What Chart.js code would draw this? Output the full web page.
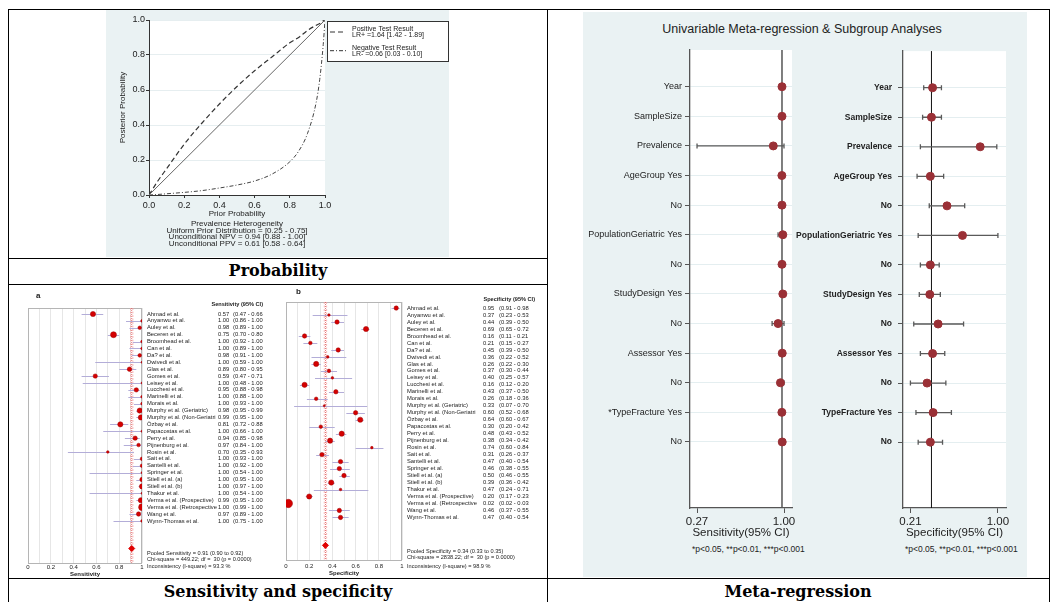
<!DOCTYPE html>
<html>
<head>
<meta charset="utf-8">
<script src="https://cdn.jsdelivr.net/npm/chart.js@4"></script>
<style>
body { margin: 0; background: #fff; width: 1054px; height: 602px; overflow: hidden; position: relative; font-family: "Liberation Sans", Arial, sans-serif; }
canvas { position: absolute; }
.hl { position: absolute; height: 1px; background: #000; }
.vl { position: absolute; width: 1px; background: #000; }
.cap { position: absolute; font-family: "DejaVu Serif", serif; font-weight: bold; font-size: 16px; text-align: center; line-height: 18px; color: #000; }
.panel { position: absolute; background: #eaf2f3; }
.txt { position: absolute; white-space: nowrap; color: #222; }
</style>
</head>
<body>

<div class="panel" style="left:106px;top:10px;width:343px;height:247px"></div>
<div class="panel" style="left:583px;top:12px;width:444px;height:565px"></div>

<div class="hl" style="left:8px;top:9px;width:1042px"></div>
<div class="hl" style="left:8px;top:258px;width:540px"></div>
<div class="hl" style="left:8px;top:284px;width:540px"></div>
<div class="hl" style="left:8px;top:578px;width:1042px"></div>
<div class="vl" style="left:8px;top:9px;height:593px"></div>
<div class="vl" style="left:547px;top:9px;height:593px"></div>
<div class="vl" style="left:1049px;top:9px;height:593px"></div>

<div class="cap" style="left:8px;top:262px;width:540px">Probability</div>
<div class="cap" style="left:8px;top:583px;width:540px">Sensitivity and specificity</div>
<div class="cap" style="left:547px;top:583px;width:502px">Meta-regression</div>

<div class="txt" style="left:580px;top:21px;width:444px;text-align:center;font-size:12.5px;line-height:16px">Univariable Meta-regression &amp; Subgroup Analyses</div>
<div class="txt" style="left:692px;top:544px;font-size:8.5px;line-height:10px">*p&lt;0.05, **p&lt;0.01, ***p&lt;0.001</div>
<div class="txt" style="left:905px;top:544px;font-size:8.5px;line-height:10px">*p&lt;0.05, **p&lt;0.01, ***p&lt;0.001</div>

<canvas id="prob" width="343" height="247" style="left:106px;top:10px"></canvas>
<canvas id="sens" width="260" height="290" style="left:20px;top:288px"></canvas>
<canvas id="spec" width="260" height="290" style="left:280px;top:288px"></canvas>
<canvas id="mrSens" width="222" height="505" style="left:583px;top:40px"></canvas>
<canvas id="mrSpec" width="257" height="505" style="left:770px;top:40px"></canvas>

<script>
// ---------- probability plot ----------
var priorProb    = [0, 0.05, 0.1, 0.2, 0.3, 0.4, 0.5, 0.6, 0.7, 0.8, 0.85, 0.9, 0.95, 0.97, 0.99, 1];
var postPositive = [0, 0.08, 0.15, 0.29, 0.41, 0.52, 0.62, 0.71, 0.79, 0.87, 0.90, 0.94, 0.97, 0.98, 0.995, 1];
var postNegative = [0, 0.003, 0.007, 0.015, 0.025, 0.04, 0.057, 0.08, 0.12, 0.19, 0.25, 0.35, 0.53, 0.66, 0.86, 1];
var diagonal     = [0, 1];
var probTicks    = [0, 0.2, 0.4, 0.6, 0.8, 1];
var probLegend   = [['Positive Test Result', 'LR+ =1.64 [1.42 - 1.89]'], ['Negative Test Result', 'LR- =0.06 [0.03 - 0.10]']];
var probNotes    = ['Prevalence Heterogeneity', 'Uniform Prior Distribution = [0.25 - 0.75]', 'Unconditional NPV = 0.94 [0.88 - 1.00]', 'Unconditional PPV = 0.61 [0.58 - 0.64]'];

// ---------- forest plots ----------
var studies = ['Ahmad et al.', 'Anyanwu et al.', 'Auley et al.', 'Beceren et al.', 'Broomhead et al.', 'Can et al.', 'Da? et al.',
    'Dwivedi et al.', 'Glas et al.', 'Gomes et al.', 'Leisey et al.', 'Lucchesi et al.', 'Marinelli et al.', 'Morais et al.',
    'Murphy et al. (Geriatric)', 'Murphy et al. (Non-Geriatri', 'Özbay et al.', 'Papacostas et al.', 'Perry et al.', 'Pijnenburg et al.',
    'Rosin et al.', 'Sait et al.', 'Santelli et al.', 'Springer et al.', 'Stiell et al. (a)', 'Stiell et al. (b)', 'Thakur et al.',
    'Verma et al. (Prospective)', 'Verma et al. (Retrospective', 'Wang et al.', 'Wynn-Thomas et al.'];
var sensEst = [0.57, 1.00, 0.98, 0.75, 1.00, 1.00, 0.98, 1.00, 0.89, 0.59, 1.00, 0.95, 1.00, 1.00, 0.98, 0.99, 0.81, 1.00, 0.94, 0.97, 0.70, 1.00, 1.00, 1.00, 1.00, 1.00, 1.00, 0.99, 1.00, 0.97, 1.00];
var sensLo  = [0.47, 0.86, 0.89, 0.70, 0.92, 0.89, 0.91, 0.59, 0.80, 0.47, 0.48, 0.88, 0.88, 0.93, 0.95, 0.95, 0.72, 0.66, 0.85, 0.84, 0.35, 0.93, 0.92, 0.54, 0.95, 0.97, 0.54, 0.95, 0.99, 0.89, 0.75];
var sensHi  = [0.66, 1.00, 1.00, 0.80, 1.00, 1.00, 1.00, 1.00, 0.95, 0.71, 1.00, 0.98, 1.00, 1.00, 0.99, 1.00, 0.88, 1.00, 0.98, 1.00, 0.93, 1.00, 1.00, 1.00, 1.00, 1.00, 1.00, 1.00, 1.00, 1.00, 1.00];
var specEst = [0.95, 0.37, 0.44, 0.69, 0.16, 0.21, 0.45, 0.36, 0.26, 0.37, 0.40, 0.16, 0.43, 0.26, 0.33, 0.60, 0.64, 0.30, 0.48, 0.38, 0.74, 0.31, 0.47, 0.46, 0.50, 0.39, 0.47, 0.20, 0.02, 0.46, 0.47];
var specLo  = [0.91, 0.23, 0.39, 0.65, 0.11, 0.15, 0.39, 0.22, 0.22, 0.30, 0.25, 0.12, 0.37, 0.18, 0.07, 0.52, 0.60, 0.20, 0.43, 0.34, 0.60, 0.26, 0.40, 0.38, 0.46, 0.36, 0.24, 0.17, 0.02, 0.37, 0.40];
var specHi  = [0.98, 0.53, 0.50, 0.72, 0.21, 0.27, 0.50, 0.52, 0.30, 0.44, 0.57, 0.20, 0.50, 0.36, 0.70, 0.68, 0.67, 0.42, 0.52, 0.42, 0.84, 0.37, 0.54, 0.55, 0.55, 0.42, 0.71, 0.23, 0.03, 0.55, 0.54];
var sensPooled = [0.91, 0.90, 0.92];
var specPooled = [0.34, 0.33, 0.35];
var sensFooter = ['Pooled Sensitivity = 0.91 (0.90 to 0.92)', 'Chi-square = 449.22; df =  30 (p = 0.0000)', 'Inconsistency (I-square) = 93.3 %'];
var specFooter = ['Pooled Specificity = 0.34 (0.33 to 0.35)', 'Chi-square = 2838.22; df =  30 (p = 0.0000)', 'Inconsistency (I-square) = 98.9 %'];

// ---------- meta-regression ----------
var mrSensLabels = ['Year', 'SampleSize', 'Prevalence', 'AgeGroup Yes', 'No', 'PopulationGeriatric Yes', 'No', 'StudyDesign Yes', 'No', 'Assessor Yes', 'No', '*TypeFracture Yes', 'No'];
var mrSpecLabels = ['Year', 'SampleSize', 'Prevalence', 'AgeGroup Yes', 'No', 'PopulationGeriatric Yes', 'No', 'StudyDesign Yes', 'No', 'Assessor Yes', 'No', 'TypeFracture Yes', 'No'];
var mrSensEst = [0.983, 0.983, 0.91, 0.982, 0.983, 0.99, 0.983, 0.99, 0.95, 0.985, 0.97, 0.982, 0.985];
var mrSensLo  = [0.978, 0.978, 0.27, 0.975, 0.955, 0.95, 0.978, 0.985, 0.90, 0.98, 0.95, 0.965, 0.98];
var mrSensHi  = [0.988, 0.988, 1.00, 0.99, 1.00, 1.00, 0.988, 0.995, 1.00, 0.99, 1.00, 1.00, 0.99];
var mrSpecEst = [0.41, 0.40, 0.84, 0.39, 0.54, 0.68, 0.39, 0.385, 0.46, 0.41, 0.36, 0.415, 0.39];
var mrSpecLo  = [0.33, 0.32, 0.30, 0.27, 0.38, 0.28, 0.30, 0.29, 0.24, 0.30, 0.21, 0.26, 0.28];
var mrSpecHi  = [0.49, 0.49, 0.99, 0.51, 0.70, 1.00, 0.47, 0.48, 0.69, 0.52, 0.53, 0.58, 0.50];
var mrSensRef = 0.983;
var mrSpecRef = 0.40;
var mrSensTicks = [0.27, 1.00];
var mrSpecTicks = [0.21, 1.00];

// marker radii (study weights)
var sensMarker = [2.6, 1.3, 1.8, 3, 1.3, 1.3, 1.8, 1, 2.2, 2.2, 1, 2.2, 1.3, 1.3, 2.6, 2.6, 2.6, 1.1, 2.2, 1.8, 1.3, 1.8, 1.8, 1, 2.2, 2.6, 1, 2.6, 3.4, 2.2, 1.3];
var specMarker = [2.2, 1.3, 2.2, 2.6, 2.2, 1.8, 2.2, 1.3, 2.6, 1.8, 1.3, 2.6, 2.2, 1.8, 1.1, 2.2, 2.6, 1.8, 2.6, 2.6, 1.3, 2.2, 2.2, 2.2, 2.2, 2.6, 1.3, 2.6, 4.2, 2.2, 2.2];

Chart.defaults.font.family = '"Liberation Sans", Arial, sans-serif';
Chart.defaults.color = '#222';
Chart.defaults.animation = false;

function pairs(xs, ys) {
    return xs.map(function(x, i) { return {x: x, y: ys[i]}; });
}

// ================= probability chart =================
var probDecor = {
    id: 'probDecor',
    beforeDraw: function(chart) {
        var a = chart.chartArea, ctx = chart.ctx;
        ctx.save();
        ctx.fillStyle = '#fff';
        ctx.fillRect(a.left, a.top, a.width, a.height);
        ctx.restore();
    },
    afterDraw: function(chart) {
        var ctx = chart.ctx;
        ctx.save();
        // legend box
        ctx.fillStyle = '#fff';
        ctx.fillRect(221, 11, 121, 40);
        ctx.strokeStyle = '#333';
        ctx.lineWidth = 1;
        ctx.strokeRect(221.5, 11.5, 121, 40);
        var dashes = [[5, 3], [4, 2, 1, 2]];
        probLegend.forEach(function(item, i) {
            var y0 = 19 + i * 18.7;
            ctx.setLineDash(dashes[i]);
            ctx.strokeStyle = '#333';
            ctx.beginPath();
            ctx.moveTo(224, y0 + 3);
            ctx.lineTo(240, y0 + 3);
            ctx.stroke();
            ctx.setLineDash([]);
            ctx.fillStyle = '#222';
            ctx.font = '7px "Liberation Sans", Arial';
            ctx.textBaseline = 'middle';
            ctx.fillText(item[0], 246, y0);
            ctx.fillText(item[1], 246, y0 + 6.5);
        });
        // notes under the axis
        ctx.textAlign = 'center';
        ctx.font = '8px "Liberation Sans", Arial';
        var cx = (chart.chartArea.left + chart.chartArea.right) / 2;
        probNotes.forEach(function(t, i) {
            ctx.fillText(t, cx, 214 + i * 6.5);
        });
        ctx.restore();
    }
};

new Chart(document.getElementById('prob'), {
    type: 'scatter',
    data: {
        datasets: [{
            data: pairs(diagonal, diagonal),
            showLine: true, borderColor: '#666', borderWidth: 1, pointRadius: 0
        }, {
            data: pairs(priorProb, postPositive),
            showLine: true, borderColor: '#333', borderWidth: 1.2, borderDash: [5, 3], pointRadius: 0,
            cubicInterpolationMode: 'monotone'
        }, {
            data: pairs(priorProb, postNegative),
            showLine: true, borderColor: '#444', borderWidth: 1, borderDash: [4, 2, 1, 2], pointRadius: 0,
            cubicInterpolationMode: 'monotone'
        }]
    },
    options: {
        responsive: false,
        devicePixelRatio: 1,
        layout: {padding: {top: 10, right: 124, bottom: 38, left: 0}},
        plugins: {legend: {display: false}, tooltip: {enabled: false}},
        scales: {
            x: {
                min: 0, max: 1,
                afterBuildTicks: function(s) { s.ticks = probTicks.map(function(v) { return {value: v}; }); },
                afterFit: function(s) { s.height = 24; },
                ticks: {font: {size: 9}, padding: 2, maxRotation: 0, callback: function(v) { return v.toFixed(1); }},
                grid: {drawOnChartArea: false, tickLength: 3, tickColor: '#333'},
                border: {color: '#333'},
                title: {display: true, text: 'Prior Probability', font: {size: 8}, padding: 0}
            },
            y: {
                min: 0, max: 1,
                afterBuildTicks: function(s) { s.ticks = probTicks.map(function(v) { return {value: v}; }); },
                afterFit: function(s) { s.width = 43; },
                ticks: {font: {size: 9}, padding: 1, callback: function(v) { return v.toFixed(1); }},
                grid: {color: '#e6eef0', tickLength: 3, tickColor: '#333'},
                border: {color: '#333'},
                title: {display: true, text: 'Posterior Probability', font: {size: 8}, padding: {top: 12, bottom: 0}}
            }
        }
    },
    plugins: [probDecor]
});

// ================= forest plots =================
function forest(id, est, lo, hi, radii, pooled, o) {
    var decor = {
        id: 'forestDecor',
        beforeDatasetsDraw: function(chart) {
            var ctx = chart.ctx, a = chart.chartArea, x = chart.scales.x, y = chart.scales.y;
            ctx.save();
            ctx.strokeStyle = '#b5b5b5';
            ctx.lineWidth = 1;
            ctx.strokeRect(a.left + 0.5, a.top + 0.5, a.width - 1, a.height);
            // pooled estimate and its interval
            ctx.lineWidth = 0.8;
            ctx.setLineDash([2, 1.5]);
            ctx.strokeStyle = '#f2a5a5';
            [pooled[1], pooled[2]].forEach(function(v) {
                var px = x.getPixelForValue(v);
                ctx.beginPath(); ctx.moveTo(px, a.top); ctx.lineTo(px, a.bottom); ctx.stroke();
            });
            ctx.strokeStyle = '#e05a5a';
            ctx.setLineDash([1, 1]);
            var pp = x.getPixelForValue(pooled[0]);
            ctx.beginPath(); ctx.moveTo(pp, a.top); ctx.lineTo(pp, a.bottom); ctx.stroke();
            ctx.setLineDash([]);
            // confidence intervals
            ctx.strokeStyle = '#b3add8';
            ctx.lineWidth = 1;
            lo.forEach(function(l, i) {
                var py = Math.round(y.getPixelForValue(i)) + 0.5;
                ctx.beginPath();
                ctx.moveTo(x.getPixelForValue(l), py);
                ctx.lineTo(x.getPixelForValue(hi[i]), py);
                ctx.stroke();
            });
            ctx.restore();
        },
        afterDraw: function(chart) {
            var ctx = chart.ctx, y = chart.scales.y;
            ctx.save();
            ctx.fillStyle = '#222';
            ctx.textBaseline = 'middle';
            ctx.font = 'bold 8px "Liberation Sans", Arial';
            ctx.fillText(o.letter, o.letterX, o.letterY);
            ctx.font = 'bold 5.6px "Liberation Sans", Arial';
            ctx.textAlign = 'right';
            ctx.fillText(o.header, o.headerX, o.headerY);
            ctx.textAlign = 'left';
            ctx.font = '5.8px "Liberation Sans", Arial';
            studies.forEach(function(s, i) {
                var py = y.getPixelForValue(i);
                ctx.fillText(s, o.nameX, py);
                ctx.fillText(est[i].toFixed(2), o.valX, py);
                ctx.fillText('(' + lo[i].toFixed(2) + ' - ' + hi[i].toFixed(2), o.ciX, py);
            });
            ctx.font = '5.6px "Liberation Sans", Arial';
            o.footer.forEach(function(t, i) {
                ctx.fillText(t, o.nameX, o.footY[i]);
            });
            ctx.restore();
        }
    };
    var pooledRow = 34;
    return new Chart(document.getElementById(id), {
        type: 'scatter',
        data: {
            datasets: [{
                data: pairs(est, est.map(function(_, i) { return i; })),
                backgroundColor: '#d40000', borderColor: '#a00000', borderWidth: 0.5,
                pointRadius: radii
            }, {
                data: [{x: pooled[0], y: pooledRow}],
                pointStyle: 'rectRot', backgroundColor: '#e00000', borderColor: '#e00000', pointRadius: 3
            }]
        },
        options: {
            responsive: false,
            devicePixelRatio: 1,
            layout: {padding: o.pad},
            plugins: {legend: {display: false}, tooltip: {enabled: false}},
            scales: {
                x: {
                    min: 0, max: 1,
                    afterFit: function(s) { s.height = o.axisH; },
                    ticks: {
                        stepSize: 0.1, autoSkip: false, maxRotation: 0, padding: o.tickPad, font: {size: 6},
                        callback: function(v) {
                            var t = Math.round(v * 10);
                            if (t % 2) return '';
                            return t === 0 ? '0' : t === 10 ? '1' : (t / 10).toFixed(1);
                        }
                    },
                    grid: {color: '#e6e6e6', drawTicks: false},
                    border: {display: false},
                    title: {display: true, text: o.axisTitle, font: {size: 6, weight: 'bold'}, padding: {top: 0, bottom: o.titlePad}}
                },
                y: {display: false, min: -0.87, max: 36.1, reverse: true}
            }
        },
        plugins: [decor]
    });
}

forest('sens', sensEst, sensLo, sensHi, sensMarker, sensPooled, {
    letter: 'a', letterX: 16, letterY: 8,
    header: 'Sensitivity (95% CI)', headerX: 243, headerY: 16,
    nameX: 127, valX: 198, ciX: 213,
    footer: sensFooter, footY: [265, 271, 278],
    pad: {top: 20, right: 138, bottom: 0, left: 8},
    axisH: 15, tickPad: 0.5, titlePad: 0, axisTitle: 'Sensitivity'
});
forest('spec', specEst, specLo, specHi, specMarker, specPooled, {
    letter: 'b', letterX: 16, letterY: 4,
    header: 'Specificity (95% CI)', headerX: 255, headerY: 11,
    nameX: 127, valX: 203, ciX: 219,
    footer: specFooter, footY: [263, 269, 278],
    pad: {top: 14, right: 138, bottom: 0, left: 6},
    axisH: 18, tickPad: 2.4, titlePad: 1.4, axisTitle: 'Specificity'
});

// ================= meta-regression =================
function metaReg(id, labels, est, lo, hi, ref, ticks, o) {
    var decor = {
        id: 'mrDecor',
        beforeDraw: function(chart) {
            var a = chart.chartArea, ctx = chart.ctx;
            ctx.save();
            ctx.fillStyle = '#fff';
            ctx.fillRect(a.left, a.top, a.width, a.height);
            ctx.restore();
        },
        beforeDatasetsDraw: function(chart) {
            var ctx = chart.ctx, a = chart.chartArea, x = chart.scales.x, y = chart.scales.y;
            ctx.save();
            ctx.strokeStyle = o.refColor;
            ctx.lineWidth = o.refWidth;
            var rx = x.getPixelForValue(ref);
            ctx.beginPath(); ctx.moveTo(rx, a.top); ctx.lineTo(rx, a.bottom); ctx.stroke();
            ctx.strokeStyle = '#5a5a5a';
            ctx.lineWidth = 1.3;
            lo.forEach(function(l, i) {
                var py = y.getPixelForValue(i), x0 = x.getPixelForValue(l), x1 = x.getPixelForValue(hi[i]);
                ctx.beginPath();
                ctx.moveTo(x0, py); ctx.lineTo(x1, py);
                ctx.moveTo(x0, py - 2.5); ctx.lineTo(x0, py + 2.5);
                ctx.moveTo(x1, py - 2.5); ctx.lineTo(x1, py + 2.5);
                ctx.stroke();
            });
            ctx.restore();
        }
    };
    return new Chart(document.getElementById(id), {
        type: 'scatter',
        data: {
            datasets: [{
                data: pairs(est, est.map(function(_, i) { return i; })),
                backgroundColor: '#9a3036', borderColor: '#9a3036', pointRadius: 4
            }]
        },
        options: {
            responsive: false,
            devicePixelRatio: 1,
            layout: {padding: {top: 10, right: o.padRight, bottom: 0, left: 0}},
            plugins: {legend: {display: false}, tooltip: {enabled: false}},
            scales: {
                x: {
                    min: o.xmin, max: o.xmax,
                    afterBuildTicks: function(s) { s.ticks = ticks.map(function(v) { return {value: v}; }); },
                    afterFit: function(s) { s.height = 37; },
                    ticks: {font: {size: 11.5}, padding: 2, maxRotation: 0, callback: function(v) { return v.toFixed(2); }},
                    grid: {drawOnChartArea: false, tickLength: 5, tickColor: '#555'},
                    border: {color: '#555', width: 1.3},
                    title: {display: true, text: o.title, font: {size: 11.5}, padding: {top: 0, bottom: 5}}
                },
                y: {
                    min: -1.24, max: 14.23, reverse: true,
                    afterBuildTicks: function(s) { s.ticks = labels.map(function(_, i) { return {value: i}; }); },
                    afterFit: function(s) { s.width = o.yWidth; },
                    ticks: {autoSkip: false, padding: o.labelPad, font: {size: o.labelSize, weight: o.labelWeight},
                        color: '#222', callback: function(v) { return labels[v]; }},
                    grid: {color: '#e4eef0', tickLength: 5, tickColor: '#555'},
                    border: {color: '#555', width: 1.3}
                }
            }
        },
        plugins: [decor]
    });
}

metaReg('mrSens', mrSensLabels, mrSensEst, mrSensLo, mrSensHi, mrSensRef, mrSensTicks, {
    xmin: 0.211, xmax: 1.067, padRight: 13, yWidth: 107, labelPad: 3, labelSize: 9, labelWeight: 'normal',
    title: 'Sensitivity(95% CI)', refColor: '#555', refWidth: 1.5
});
metaReg('mrSpec', mrSpecLabels, mrSpecEst, mrSpecLo, mrSpecHi, mrSpecRef, mrSpecTicks, {
    xmin: 0.143, xmax: 1.073, padRight: 21, yWidth: 133, labelPad: 6, labelSize: 8.5, labelWeight: 'bold',
    title: 'Specificity(95% CI)', refColor: '#111', refWidth: 1
});
</script>
</body>
</html>
